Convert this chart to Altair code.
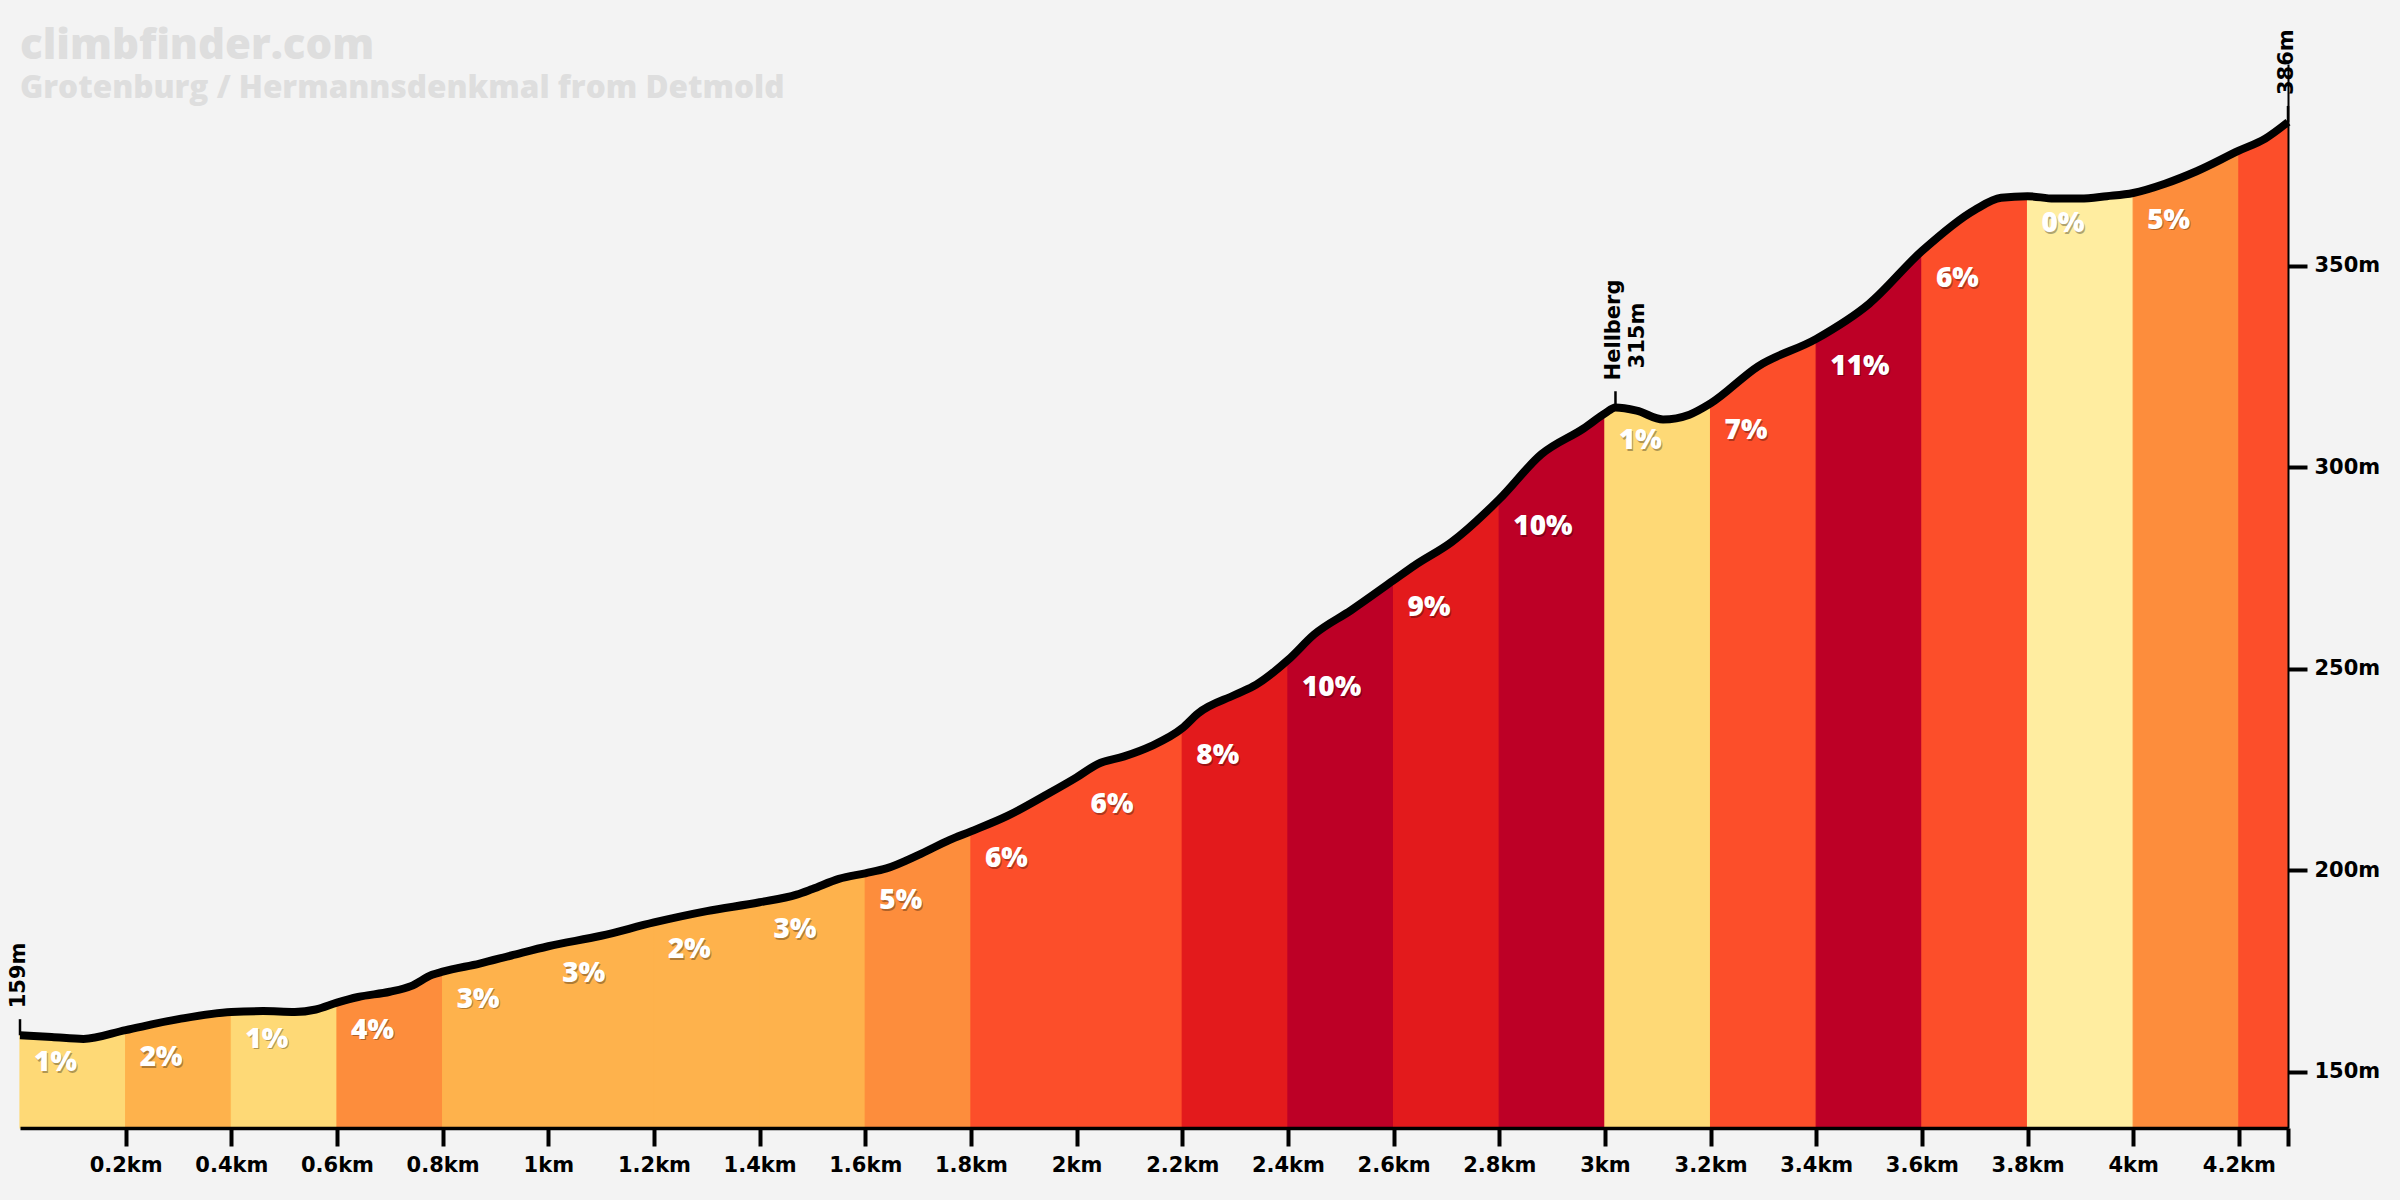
import altair as alt
import pandas as pd

# ---- data ----
dist = [0.00, 0.06, 0.12, 0.20, 0.30, 0.40, 0.46, 0.52, 0.56, 0.60, 0.64, 0.70, 0.74, 0.78, 0.80,
        0.87, 0.93, 1.00, 1.10, 1.20, 1.30, 1.40, 1.47, 1.50, 1.55, 1.60, 1.64, 1.70, 1.76, 1.80,
        1.87, 1.94, 2.00, 2.04, 2.09, 2.14, 2.20, 2.23, 2.30, 2.34, 2.40, 2.45, 2.52, 2.60, 2.64,
        2.71, 2.80, 2.88, 2.96, 3.00, 3.02, 3.06, 3.11, 3.16, 3.20, 3.29, 3.40, 3.50, 3.60, 3.70,
        3.75, 3.80, 3.85, 3.90, 3.95, 4.00, 4.06, 4.12, 4.20, 4.25, 4.293]
elev = [159.0, 158.6, 158.1, 160.3, 163.0, 164.8, 165.0, 164.8, 165.4, 167.1, 168.5, 169.8, 171.2, 174.0, 174.8,
        176.8, 178.8, 181.1, 183.7, 187.0, 189.8, 192.0, 193.9, 195.3, 197.8, 199.2, 200.4, 203.7, 207.5, 209.6,
        213.5, 218.5, 223.0, 226.3, 228.2, 230.7, 235.2, 238.9, 243.5, 246.0, 252.1, 258.5, 264.5, 271.9, 275.6,
        281.4, 292.0, 303.2, 309.6, 313.3, 314.8, 314.0, 311.8, 313.0, 315.8, 325.0, 331.8, 340.5, 353.6, 363.8,
        366.8, 367.2, 366.6, 366.6, 367.2, 368.0, 370.3, 373.4, 378.5, 381.5, 385.6]

seg_start = [0.0, 0.2, 0.4, 0.6, 0.8, 1.0, 1.2, 1.4, 1.6, 1.8, 2.0, 2.2, 2.4, 2.6, 2.8, 3.0,
             3.2, 3.4, 3.6, 3.8, 4.0, 4.2]
seg_end = [0.2, 0.4, 0.6, 0.8, 1.0, 1.2, 1.4, 1.6, 1.8, 2.0, 2.2, 2.4, 2.6, 2.8, 3.0, 3.2,
           3.4, 3.6, 3.8, 4.0, 4.2, 4.293]
grades = [1, 2, 1, 4, 3, 3, 2, 3, 5, 6, 6, 8, 10, 9, 10, 1, 7, 11, 6, 0, 5, 7]
grade_labels = ["1%", "2%", "1%", "4%", "3%", "3%", "2%", "3%", "5%", "6%", "6%", "8%", "10%",
                "9%", "10%", "1%", "7%", "11%", "6%", "0%", "5%", ""]

x_ticks = [0.2, 0.4, 0.6, 0.8, 1.0, 1.2, 1.4, 1.6, 1.8, 2.0, 2.2, 2.4, 2.6, 2.8, 3.0, 3.2,
           3.4, 3.6, 3.8, 4.0, 4.2, 4.293]
y_ticks = [150, 200, 250, 300, 350]
y_floor = 136

marker_dist = [0.0, 3.02, 4.293]
marker_name = ["159m", "Hellberg", "386m"]
hellberg_height = ["315m"]

title_text = "climbfinder.com"
subtitle_text = "Grotenburg / Hermannsdenkmal from Detmold"


def grade_color(g):
    if g <= 0:
        return "#ffeda0"
    if g <= 1:
        return "#fed976"
    if g <= 3:
        return "#feb24c"
    if g <= 5:
        return "#fd8d3c"
    if g <= 7:
        return "#fc4e2a"
    if g <= 9:
        return "#e31a1c"
    return "#bd0026"


# ---- tables ----
profile = pd.DataFrame({"d": dist, "elev": elev})
elev_at = dict(zip([round(v, 3) for v in dist], elev))

rows = []
for i, (s, e) in enumerate(zip(seg_start, seg_end)):
    for d, h in zip(dist, elev):
        if s - 1e-9 <= d <= e + 1e-9:
            rows.append({"d": d, "elev": h, "base": y_floor, "seg": f"s{i:02d}",
                         "fillc": grade_color(grades[i])})
segments = pd.DataFrame(rows)

labels = pd.DataFrame({
    "d": seg_start,
    "elev": [elev_at[round(s, 3)] for s in seg_start],
    "label": grade_labels,
})
labels = labels[labels["label"] != ""]

markers = pd.DataFrame({
    "d": marker_dist,
    "elev": [elev_at[round(m, 3)] for m in marker_dist],
    "name": marker_name,
})
markers["top"] = markers["elev"] + 4
hell = markers[markers["name"] == "Hellberg"].copy()
hell["name"] = hellberg_height

AXIS_FONT = "DejaVu Sans"

xscale = alt.Scale(domain=[0, 4.293], nice=False, zero=False)
yscale = alt.Scale(domain=[y_floor, 400], nice=False, zero=False)

x_axis = alt.Axis(
    values=x_ticks, title=None, grid=False,
    labelExpr="datum.value > 4.25 ? '' : format(datum.value, '.1~f') + 'km'",
    labelFont=AXIS_FONT, labelFontSize=21, labelFontWeight="bold", labelColor="black",
    labelPadding=8, tickSize=18, tickWidth=4, tickColor="black",
    domainColor="black", domainWidth=3.5, labelFlush=False, labelOverlap=False, zindex=2,
)
y_axis = alt.Axis(
    values=y_ticks, title=None, grid=False, orient="right",
    labelExpr="datum.value + 'm'",
    labelFont=AXIS_FONT, labelFontSize=21, labelFontWeight="bold", labelColor="black",
    labelPadding=7, tickSize=19, tickWidth=4, tickColor="black",
    domainColor="black", domainWidth=2, zindex=2,
)

area = alt.Chart(segments).mark_area(
    interpolate="monotone", opacity=1, strokeWidth=1.2
).encode(
    x=alt.X("d:Q", scale=xscale, axis=x_axis),
    y=alt.Y("elev:Q", scale=yscale, axis=y_axis, stack=None),
    y2=alt.Y2("base:Q"),
    color=alt.Color("fillc:N", scale=None, legend=None),
    stroke=alt.Stroke("fillc:N", scale=None, legend=None),
    detail=alt.Detail("seg:N"),
)

line = alt.Chart(profile).mark_line(
    interpolate="monotone", color="black", strokeWidth=8, strokeJoin="round"
).encode(x="d:Q", y="elev:Q", order="d:Q")

pct_shadow = alt.Chart(labels).mark_text(
    align="left", baseline="middle", dx=15, dy=29.5, font="Open Sans", fontSize=28,
    fontWeight=800, color="black", opacity=0.3,
).encode(x="d:Q", y="elev:Q", text="label:N")

pct = alt.Chart(labels).mark_text(
    align="left", baseline="middle", dx=14, dy=28, font="Open Sans", fontSize=28,
    fontWeight=800, color="white",
).encode(x="d:Q", y="elev:Q", text="label:N")

ticks = alt.Chart(markers).mark_rule(color="black", strokeWidth=2.5).encode(
    x="d:Q", y="elev:Q", y2="top:Q"
)

marker_text = alt.Chart(markers).mark_text(
    angle=270, align="left", baseline="middle", dx=27, dy=-1,
    font=AXIS_FONT, fontSize=21, fontWeight="bold", color="black",
).encode(x="d:Q", y="elev:Q", text="name:N")

hell_text = alt.Chart(hell).mark_text(
    angle=270, align="left", baseline="middle", dx=39, dy=23,
    font=AXIS_FONT, fontSize=21, fontWeight="bold", color="black",
).encode(x="d:Q", y="elev:Q", text="name:N")

chart = alt.layer(area, line, pct_shadow, pct, ticks, marker_text, hell_text).properties(
    width=2268,
    height=1064,
    autosize=alt.AutoSizeParams(type="none"),
    padding={"left": 20, "top": 64, "right": 112, "bottom": 72},
    background="#f3f3f3",
    title=alt.TitleParams(
        text=title_text, subtitle=subtitle_text, anchor="start", frame="group",
        font="Open Sans", fontSize=42, fontWeight=800, color="#dedede",
        subtitleFont="Open Sans", subtitleFontSize=31.5, subtitleFontWeight=800,
        subtitleColor="#dedede", subtitlePadding=5, offset=-76,
    ),
).configure_view(stroke=None)

chart.save("out.html", embed_options={"renderer": "svg", "actions": False})
